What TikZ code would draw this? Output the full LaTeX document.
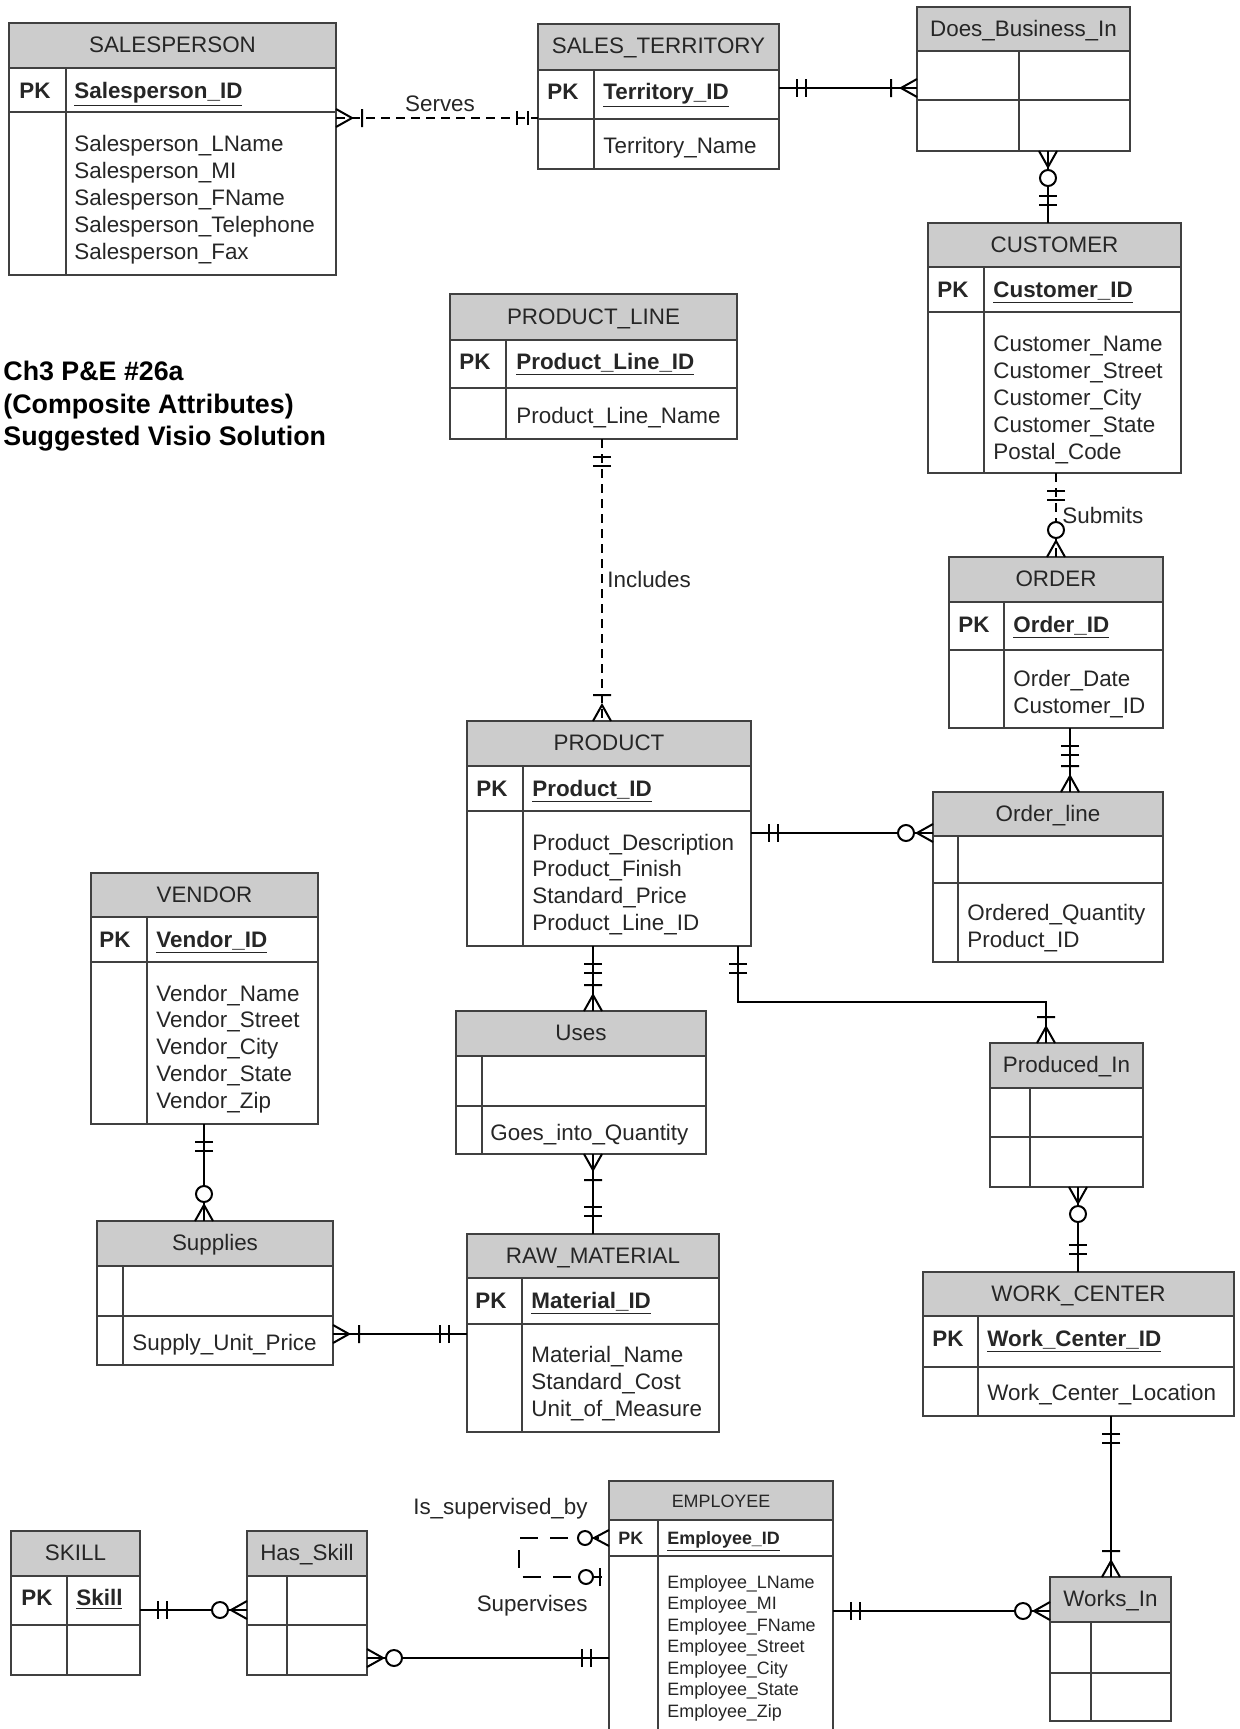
\documentclass[tikz,border=0pt]{standalone}
\usepackage{fontspec}
\setmainfont{Liberation Sans}
\definecolor{hdrc}{HTML}{CCCCCC}
\definecolor{bordc}{HTML}{404040}
\definecolor{txtc}{HTML}{262626}
\newcommand\fmain{\fontsize{11.2}{13.5}\selectfont}
\newcommand\fsmall{\fontsize{8.95}{10.75}\selectfont}
\newcommand\fbig{\fontsize{13.4}{16}\selectfont\bfseries}
% entity: name, x1, y1, x2, y2, header bottom, row bottom, divider x, title
\newcommand\entity[9]{%
  \fill[hdrc] (#2,#3) rectangle (#4,#6);
  \node[ebox, minimum width={(#4-(#2))*0.5pt}, minimum height={(#5-(#3))*0.5pt}] (#1) at ({(#2+#4)/2},{(#3+#5)/2}) {};
  \draw[eline] (#2,#6) -- (#4,#6) (#2,#7) -- (#4,#7) (#8,#6) -- (#8,#5);
  \node[lbl, anchor=base] (#1-title) at ({(#2+#4)/2},{(#3+#6)/2+7}) {#9};
}
\newcommand\pk[6][]{%
  \node[lbl,anchor=base west,font=\fmain\bfseries,#1] (#2-pk) at (#3,#5) {PK};
  \node[lbl,anchor=base west,font=\fmain\bfseries,#1] (#2-key) at (#4,#5) {\underline{#6}};
}
\newcommand\attrs[6][]{%
  \foreach \t [count=\i] in {#6}
    \node[lbl,anchor=base west,#1] (#2-a\i) at (#3,{#4+(\i-1)*#5}) {\t};
}
\newcommand\mone[3]{\begin{scope}[shift={(#1,#2)},rotate=#3]\draw[mk] (18,-9)--(18,9) (27,-9)--(27,9);\end{scope}}
\newcommand\mmany[3]{\begin{scope}[shift={(#1,#2)},rotate=#3]\draw[mk] (0,-9)--(16,0)--(0,9) (26,-9)--(26,9);\end{scope}}
\newcommand\zmany[3]{\begin{scope}[shift={(#1,#2)},rotate=#3]\draw[mk] (0,-9)--(16,0)--(0,9);\draw[mk,fill=white] (27,0) circle[radius=8];\end{scope}}
\newcommand\zmanyb[3]{\begin{scope}[shift={(#1,#2)},rotate=#3]\draw[mk] (0,-8)--(15,0)--(0,8);\draw[mk,fill=white] (24,0) circle[radius=7];\end{scope}}
\newcommand\zone[3]{\begin{scope}[shift={(#1,#2)},rotate=#3]\draw[mk] (9,-9)--(9,9);\draw[mk,fill=white] (23,0) circle[radius=7];\end{scope}}
\begin{document}
\begin{tikzpicture}[x=0.5pt,y=-0.5pt,
  ebox/.style={draw=bordc, line width=0.9pt, inner sep=0pt, outer sep=0pt, rectangle},
  eline/.style={draw=bordc, line width=0.9pt},
  lbl/.style={font=\fmain, text=txtc, inner sep=0pt},
  conn/.style={draw=black, line width=1pt},
  dconn/.style={conn, dash pattern=on 4.5pt off 3pt},
  sconn/.style={conn, dash pattern=on 9pt off 6.25pt, dash phase=10pt},
  mk/.style={draw=black, line width=1pt, solid}]
\useasboundingbox (0,0) rectangle (1239,1729);
\clip (0,0) rectangle (1239,1729);
\fill[white] (0,0) rectangle (1239,1729);

% title
\node[lbl,anchor=base west,font=\fbig,text=black] (t1) at (3,380) {Ch3 P\&E \#26a};
\node[lbl,anchor=base west,font=\fbig,text=black] (t2) at (3,413) {(Composite Attributes)};
\node[lbl,anchor=base west,font=\fbig,text=black] (t3) at (3,445) {Suggested Visio Solution};

% entities
\entity{sp}{9}{23}{336}{275}{68}{112}{66}{SALESPERSON}
\pk{sp}{19}{74}{98}{Salesperson\_ID}
\attrs{sp}{74}{151}{27}{Salesperson\_LName,Salesperson\_MI,Salesperson\_FName,Salesperson\_Telephone,Salesperson\_Fax}

\entity{st}{538}{24}{779}{169}{70}{119}{594}{SALES\_TERRITORY}
\pk{st}{547}{603}{99}{Territory\_ID}
\attrs{st}{603}{153}{27}{Territory\_Name}

\entity{dbi}{917}{7}{1130}{151}{51}{100}{1019}{Does\_Business\_In}

\entity{cust}{928}{223}{1181}{473}{267}{312}{984}{CUSTOMER}
\pk{cust}{937}{993}{297}{Customer\_ID}
\attrs{cust}{993}{351}{27}{Customer\_Name,Customer\_Street,Customer\_City,Customer\_State,Postal\_Code}

\entity{pl}{450}{294}{737}{439}{340}{388}{506}{PRODUCT\_LINE}
\pk{pl}{459}{516}{369}{Product\_Line\_ID}
\attrs{pl}{516}{423}{27}{Product\_Line\_Name}

\entity{ord}{949}{557}{1163}{728}{602}{650}{1004}{ORDER}
\pk{ord}{958}{1013}{632}{Order\_ID}
\attrs{ord}{1013}{686}{27}{Order\_Date,Customer\_ID}

\entity{ol}{933}{792}{1163}{962}{836}{883}{958}{Order\_line}
\attrs{ol}{967}{920}{27}{Ordered\_Quantity,Product\_ID}

\entity{prod}{467}{721}{751}{946}{766}{811}{523}{PRODUCT}
\pk{prod}{476}{532}{796}{Product\_ID}
\attrs{prod}{532}{850}{26.7}{Product\_Description,Product\_Finish,Standard\_Price,Product\_Line\_ID}

\entity{ven}{91}{873}{318}{1124}{917}{962}{147}{VENDOR}
\pk{ven}{99}{156}{947}{Vendor\_ID}
\attrs{ven}{156}{1001}{26.8}{Vendor\_Name,Vendor\_Street,Vendor\_City,Vendor\_State,Vendor\_Zip}

\entity{uses}{456}{1011}{706}{1154}{1056}{1106}{482}{Uses}
\attrs{uses}{490}{1140}{27}{Goes\_into\_Quantity}

\entity{pi}{990}{1043}{1143}{1187}{1088}{1137}{1030}{Produced\_In}

\entity{sup}{97}{1221}{333}{1365}{1266}{1316}{123}{Supplies}
\attrs{sup}{132}{1350}{27}{Supply\_Unit\_Price}

\entity{raw}{467}{1234}{719}{1432}{1278}{1324}{522}{RAW\_MATERIAL}
\pk{raw}{475}{531}{1308}{Material\_ID}
\attrs{raw}{531}{1362}{27}{Material\_Name,Standard\_Cost,Unit\_of\_Measure}

\entity{wc}{923}{1272}{1234}{1416}{1316}{1367}{978}{WORK\_CENTER}
\pk{wc}{932}{987}{1346}{Work\_Center\_ID}
\attrs{wc}{987}{1400}{27}{Work\_Center\_Location}

\entity{emp}{609}{1481}{833}{1745}{1520}{1556}{658}{{\fsmall EMPLOYEE}}
\pk[font=\fsmall\bfseries]{emp}{618}{667}{1544}{Employee\_ID}
\attrs[font=\fsmall]{emp}{667}{1588}{21.5}{Employee\_LName,Employee\_MI,Employee\_FName,Employee\_Street,Employee\_City,Employee\_State,Employee\_Zip}

\entity{wi}{1050}{1577}{1171}{1721}{1622}{1673}{1091}{Works\_In}
\entity{hs}{247}{1531}{367}{1675}{1576}{1625}{287}{Has\_Skill}
\entity{sk}{11}{1531}{140}{1675}{1576}{1625}{67}{SKILL}
\pk{sk}{21}{76}{1605}{Skill}

% connectors
\draw[dconn] (sp.east |- 0,118) -- (st.west |- 0,118);
\draw[conn] (st.east |- 0,88) -- (dbi.west |- 0,88);
\draw[conn] (dbi.south -| 1048,0) -- (cust.north -| 1048,0);
\draw[dconn] (cust.south -| 1056,0) -- (ord.north -| 1056,0);
\draw[conn] (ord.south -| 1070,0) -- (ol.north -| 1070,0);
\draw[conn] (prod.east |- 0,833) -- (ol.west |- 0,833);
\draw[dconn] (pl.south -| 602,0) -- (prod.north -| 602,0);
\draw[conn] (prod.south -| 593,0) -- (uses.north -| 593,0);
\draw[conn] (uses.south -| 593,0) -- (raw.north -| 593,0);
\draw[conn] (prod.south -| 738,0) -- (738,1002) -| (pi.north -| 1046,0);
\draw[conn] (pi.south -| 1078,0) -- (wc.north -| 1078,0);
\draw[conn] (wc.south -| 1111,0) -- (wi.north -| 1111,0);
\draw[conn] (emp.east |- 0,1611) -- (wi.west |- 0,1611);
\draw[sconn] (emp.west |- 0,1538) -- (519,1538) -- (519,1577) -- (emp.west |- 0,1577);
\draw[conn] (emp.west |- 0,1658) -- (hs.east |- 0,1658);
\draw[conn] (sk.east |- 0,1610) -- (hs.west |- 0,1610);
\draw[conn] (ven.south -| 204,0) -- (sup.north -| 204,0);
\draw[conn] (sup.east |- 0,1334) -- (raw.west |- 0,1334);

% cardinality marks
\mmany{336}{118}{0}
\begin{scope}[shift={(538,118)},rotate=180]\draw[mk] (10,-7)--(10,7) (21,-7)--(21,7);\end{scope}
\mone{779}{88}{0} \mmany{917}{88}{180}
\zmany{1048}{151}{-90} \mone{1048}{223}{90}
\mone{1056}{473}{-90} \zmany{1056}{557}{90}
\mone{1070}{728}{-90} \mmany{1070}{792}{90}
\mone{751}{833}{0} \zmany{933}{833}{180}
\mone{602}{439}{-90} \mmany{602}{721}{90}
\mone{593}{946}{-90} \mmany{593}{1011}{90}
\mmany{593}{1154}{-90} \mone{593}{1234}{90}
\mone{738}{946}{-90} \mmany{1046}{1043}{90}
\zmany{1078}{1187}{-90} \mone{1078}{1272}{90}
\mone{1111}{1416}{-90} \mmany{1111}{1577}{90}
\mone{833}{1611}{0} \zmany{1050}{1611}{180}
\zmanyb{609}{1538}{180} \zone{609}{1577}{180}
\mone{609}{1658}{180} \zmany{367}{1658}{0}
\mone{140}{1610}{0} \zmany{247}{1610}{180}
\mone{204}{1124}{-90} \zmany{204}{1221}{90}
\mmany{333}{1334}{0} \mone{467}{1334}{180}

% relationship labels
\node[lbl, anchor=base] (lserves) at (440,111) {Serves};
\node[lbl, anchor=base west] (lincl) at (607,587) {Includes};
\node[lbl, anchor=base west] (lsub) at (1062,523) {Submits};
\node[lbl, anchor=base east] (lisup) at (588,1514) {Is\_supervised\_by};
\node[lbl, anchor=base east] (lsup) at (588,1611) {Supervises};
\end{tikzpicture}
\end{document}
